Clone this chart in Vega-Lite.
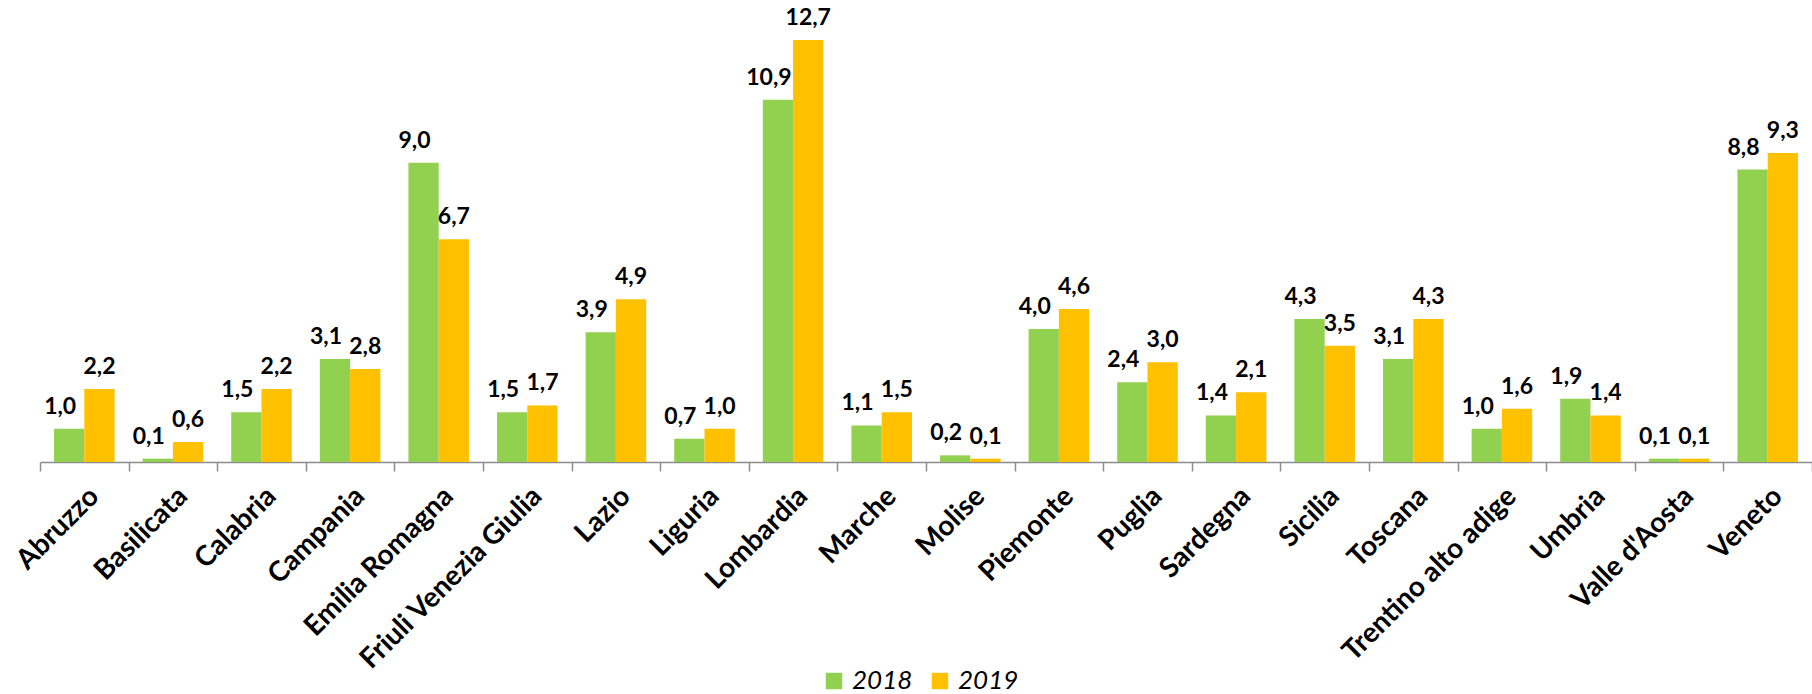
{
  "$schema": "https://vega.github.io/schema/vega-lite/v6.json",
  "width": 1772,
  "height": 462,
  "autosize": {"type": "none"},
  "padding": {"left": 40, "top": 0, "right": 0, "bottom": 232},
  "config": {
    "view": {"stroke": null},
    "font": "Lato",
    "locale": {"number": {"decimal": ",", "thousands": ".", "grouping": [3], "currency": ["", " €"]}}
  },
  "data": {
    "values": [
      {"regione": "Abruzzo", "anno": "2018", "valore": 1.0},
      {"regione": "Abruzzo", "anno": "2019", "valore": 2.2},
      {"regione": "Basilicata", "anno": "2018", "valore": 0.1},
      {"regione": "Basilicata", "anno": "2019", "valore": 0.6},
      {"regione": "Calabria", "anno": "2018", "valore": 1.5},
      {"regione": "Calabria", "anno": "2019", "valore": 2.2},
      {"regione": "Campania", "anno": "2018", "valore": 3.1},
      {"regione": "Campania", "anno": "2019", "valore": 2.8},
      {"regione": "Emilia Romagna", "anno": "2018", "valore": 9.0},
      {"regione": "Emilia Romagna", "anno": "2019", "valore": 6.7},
      {"regione": "Friuli Venezia Giulia", "anno": "2018", "valore": 1.5},
      {"regione": "Friuli Venezia Giulia", "anno": "2019", "valore": 1.7},
      {"regione": "Lazio", "anno": "2018", "valore": 3.9},
      {"regione": "Lazio", "anno": "2019", "valore": 4.9},
      {"regione": "Liguria", "anno": "2018", "valore": 0.7},
      {"regione": "Liguria", "anno": "2019", "valore": 1.0},
      {"regione": "Lombardia", "anno": "2018", "valore": 10.9},
      {"regione": "Lombardia", "anno": "2019", "valore": 12.7},
      {"regione": "Marche", "anno": "2018", "valore": 1.1},
      {"regione": "Marche", "anno": "2019", "valore": 1.5},
      {"regione": "Molise", "anno": "2018", "valore": 0.2},
      {"regione": "Molise", "anno": "2019", "valore": 0.1},
      {"regione": "Piemonte", "anno": "2018", "valore": 4.0},
      {"regione": "Piemonte", "anno": "2019", "valore": 4.6},
      {"regione": "Puglia", "anno": "2018", "valore": 2.4},
      {"regione": "Puglia", "anno": "2019", "valore": 3.0},
      {"regione": "Sardegna", "anno": "2018", "valore": 1.4},
      {"regione": "Sardegna", "anno": "2019", "valore": 2.1},
      {"regione": "Sicilia", "anno": "2018", "valore": 4.3},
      {"regione": "Sicilia", "anno": "2019", "valore": 3.5},
      {"regione": "Toscana", "anno": "2018", "valore": 3.1},
      {"regione": "Toscana", "anno": "2019", "valore": 4.3},
      {"regione": "Trentino alto adige", "anno": "2018", "valore": 1.0},
      {"regione": "Trentino alto adige", "anno": "2019", "valore": 1.6},
      {"regione": "Umbria", "anno": "2018", "valore": 1.9},
      {"regione": "Umbria", "anno": "2019", "valore": 1.4},
      {"regione": "Valle d'Aosta", "anno": "2018", "valore": 0.1},
      {"regione": "Valle d'Aosta", "anno": "2019", "valore": 0.1},
      {"regione": "Veneto", "anno": "2018", "valore": 8.8},
      {"regione": "Veneto", "anno": "2019", "valore": 9.3}
    ]
  },
  "encoding": {
    "x": {
      "field": "regione",
      "type": "nominal",
      "sort": null,
      "scale": {"paddingInner": 0, "paddingOuter": 0},
      "axis": {
        "title": null,
        "labelAngle": -45,
        "labelAlign": "right",
        "labelBaseline": "top",
        "labelFont": "Lato",
        "labelFontSize": 28,
        "labelFontWeight": "bold",
        "labelColor": "#000000",
        "labelPadding": 11,
        "labelOverlap": false,
        "labelLimit": 400,
        "tickBand": "extent",
        "tickSize": 9,
        "tickWidth": 1.5,
        "tickColor": "#8c8c8c",
        "domainColor": "#8c8c8c",
        "domainWidth": 1.5
      }
    },
    "xOffset": {
      "field": "anno",
      "type": "nominal",
      "scale": {"paddingInner": 0, "paddingOuter": 0.463}
    },
    "y": {
      "field": "valore",
      "type": "quantitative",
      "scale": {"domain": [0, 13.9], "nice": false, "zero": true},
      "axis": null
    }
  },
  "layer": [
    {
      "mark": {"type": "bar"},
      "encoding": {
        "color": {
          "field": "anno",
          "type": "nominal",
          "scale": {"domain": ["2018", "2019"], "range": ["#92D050", "#FFC000"]},
          "legend": {
            "title": null,
            "orient": "none",
            "legendX": 781,
            "legendY": 668,
            "direction": "horizontal",
            "padding": 0,
            "symbolType": "square",
            "symbolSize": 270,
            "symbolStrokeWidth": 0,
            "labelFont": "Lato",
            "labelFontSize": 26,
            "labelFontStyle": "italic",
            "labelColor": "#000000",
            "labelOffset": 5,
            "columnPadding": 14
          }
        }
      }
    },
    {
      "transform": [{"filter": "datum.anno == '2018'"}],
      "mark": {"type": "text", "dx": -9, "dy": -15, "baseline": "alphabetic", "fontWeight": "bold", "fontSize": 23, "font": "Lato", "color": "#000000"},
      "encoding": {"text": {"field": "valore", "type": "quantitative", "format": ".1f"}}
    },
    {
      "transform": [{"filter": "datum.anno == '2019'"}],
      "mark": {"type": "text", "dx": 0, "dy": -15, "baseline": "alphabetic", "fontWeight": "bold", "fontSize": 23, "font": "Lato", "color": "#000000"},
      "encoding": {"text": {"field": "valore", "type": "quantitative", "format": ".1f"}}
    }
  ]
}
